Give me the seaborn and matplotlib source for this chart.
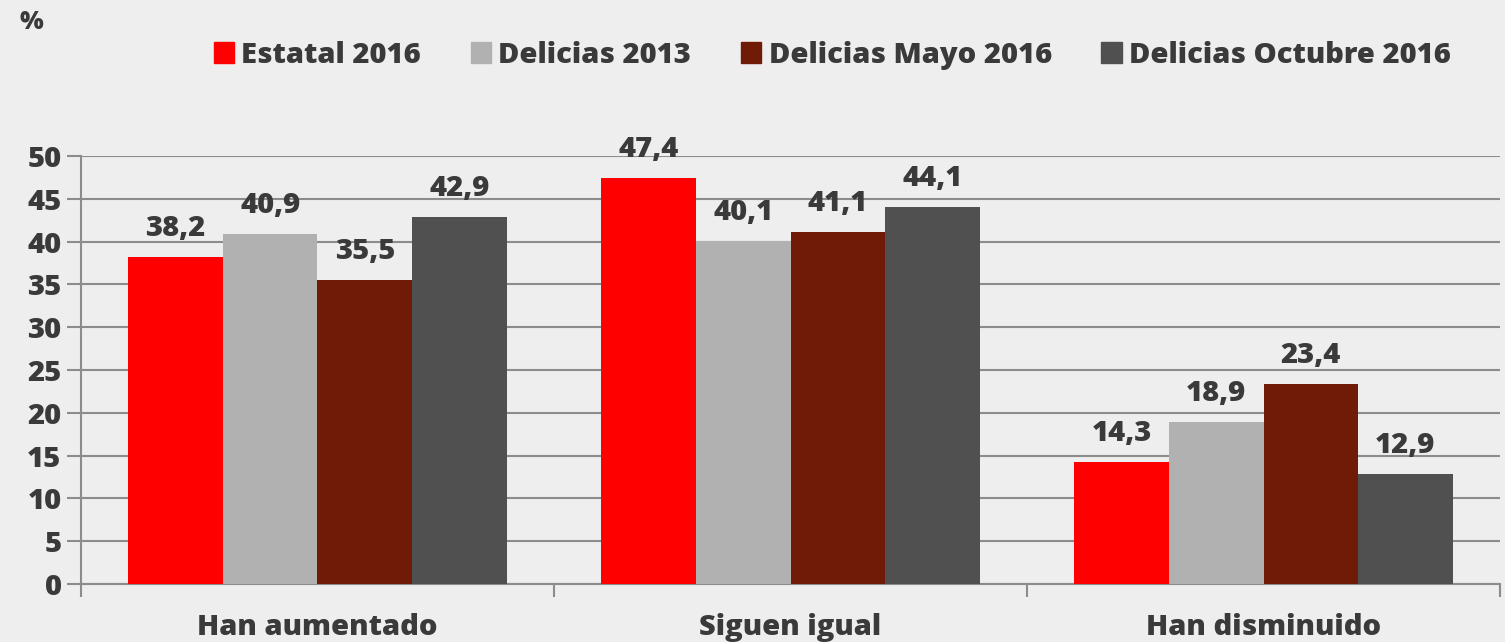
import pandas as pd
import matplotlib.pyplot as plt
import seaborn as sns

categorias = ["Han aumentado", "Siguen igual", "Han disminuido"]
series = ["Estatal 2016", "Delicias 2013", "Delicias Mayo 2016", "Delicias Octubre 2016"]
estatal_2016 = [38.2, 47.4, 14.3]
delicias_2013 = [40.9, 40.1, 18.9]
delicias_mayo_2016 = [35.5, 41.1, 23.4]
delicias_oct_2016 = [42.9, 44.1, 12.9]
y_ticks = list(range(0, 55, 5))

colores = ["#ff0000", "#b1b1b1", "#701a08", "#505050"]
texto = "#3a3a3a"
gris = "#8c8c8c"

valores = [estatal_2016, delicias_2013, delicias_mayo_2016, delicias_oct_2016]
df = pd.DataFrame([
    {"categoria": c, "serie": s, "valor": v}
    for s, vals in zip(series, valores)
    for c, v in zip(categorias, vals)
])

sns.set_theme(style="white")
plt.rcParams['font.family'] = ['Open Sans', 'DejaVu Sans']
peso = 800
fs = 21

fig = plt.figure(figsize=(15.05, 6.42), dpi=100, facecolor="#eeeeee")
ax = fig.add_axes([0.0538, 0.0903, 0.9429, 0.6667])
ax.set_facecolor("none")

sns.barplot(data=df, x="categoria", y="valor", hue="serie", order=categorias,
            hue_order=series, palette=colores, width=0.8, saturation=1,
            linewidth=0, ax=ax, zorder=3)

for cont in ax.containers:
    ax.bar_label(cont, labels=[f"{b.get_height():.1f}".replace(".", ",") for b in cont],
                 padding=10, fontsize=fs, fontweight=peso, color=texto)

ax.set_ylim(0, 50)
ax.set_xlim(-0.5, 2.5)
ax.set_yticks(y_ticks)
ax.yaxis.grid(True, color=gris, linewidth=1.5, zorder=0)
ax.tick_params(axis="y", left=True, length=10, width=1.5, color=gris, labelsize=fs,
               labelcolor=texto, pad=4)

# category labels on minor ticks, boundary tick marks on major ticks
ax.set_xticks([-0.5, 0.5, 1.5, 2.5])
ax.set_xticklabels([])
ax.set_xticks([0, 1, 2], minor=True)
ax.set_xticklabels(categorias, minor=True)
ax.tick_params(axis="x", which="major", bottom=True, length=9, width=1.5, color=gris)
ax.tick_params(axis="x", which="minor", bottom=True, length=0, labelsize=fs,
               labelcolor=texto, pad=21)
for lab in ax.get_xticklabels(minor=True) + ax.get_yticklabels():
    lab.set_fontweight(peso)

ax.set_xlabel("")
ax.set_ylabel("")
for side in ["top", "right"]:
    ax.spines[side].set_visible(False)
for side in ["left", "bottom"]:
    ax.spines[side].set_color(gris)
    ax.spines[side].set_linewidth(1.5)

ax.legend_.remove()
handles = [plt.Rectangle((0, 0), 1, 1, color=c) for c in colores]
fig.legend(handles, series, loc="center", bbox_to_anchor=(0.553, 0.914), ncol=4,
           frameon=False, handlelength=0.7, handleheight=0.7,
           handletextpad=0.25, columnspacing=1.7, labelcolor=texto,
           prop={"weight": peso, "size": fs})

fig.text(0.013, 0.965, "%", fontsize=18, fontweight=peso, color=texto, va="center")

fig.savefig("out.png", dpi=100, facecolor=fig.get_facecolor())
